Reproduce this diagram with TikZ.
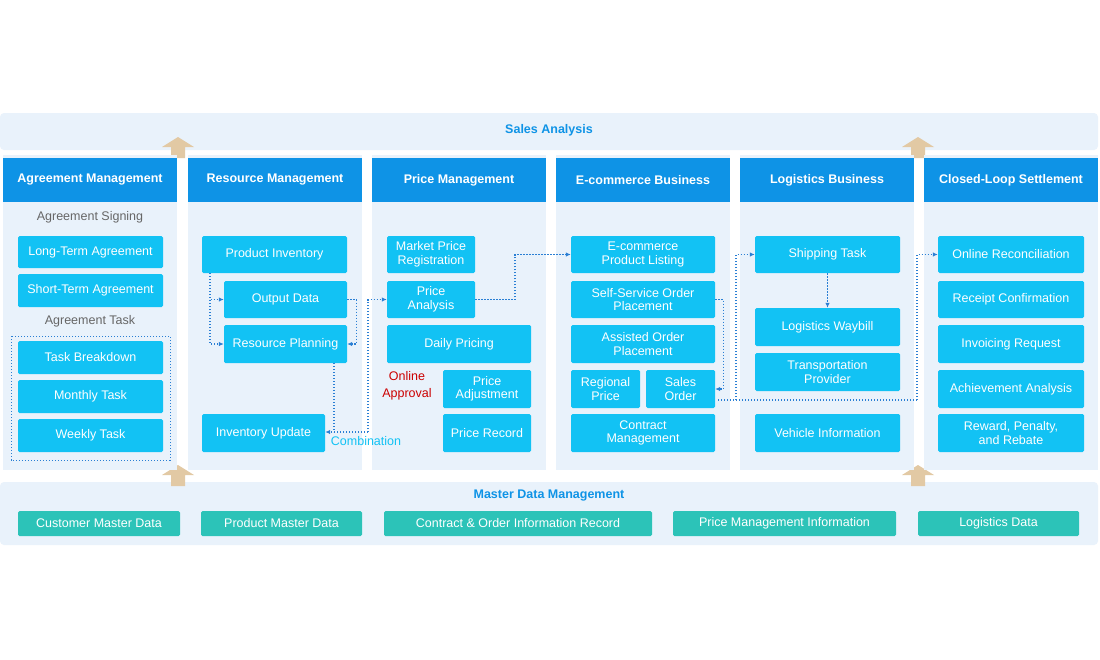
\documentclass[tikz,border=0pt]{standalone}
\usepackage{fontspec}
\setmainfont{Liberation Sans}
\usetikzlibrary{arrows.meta,calc}
\definecolor{pan}{HTML}{E9F2FB}
\definecolor{hdr}{HTML}{0E93E6}
\definecolor{bx}{HTML}{12C2F4}
\definecolor{teal}{HTML}{2CC3B8}
\definecolor{lnk}{HTML}{2A7FD4}
\definecolor{beige}{HTML}{E2C9A4}
\tikzset{x=1pt,y=-1pt,
 cbox/.style={fill=bx,rounded corners=1.5pt,text=white,align=center,inner sep=0pt,font=\fontsize{12.5}{13.5}\selectfont},
 tbox/.style={fill=teal,rounded corners=1.5pt,text=white,align=center,inner sep=0pt,font=\fontsize{12.5}{13.5}\selectfont},
 hbox/.style={fill=hdr,text=white,inner sep=0pt,font=\bfseries\fontsize{12.5}{14}\selectfont},
 link/.style={draw=lnk,dash pattern=on 1.3pt off 1.7pt,line width=1.1pt,-{Latex[length=5pt,width=4.5pt]}},
 linkn/.style={draw=lnk,dash pattern=on 1.3pt off 1.7pt,line width=1.1pt},
 upar/.style={fill=beige}}
\newcommand{\bxn}[7]{\node[#1,minimum width={(#5)-(#3)},minimum height={(#6)-(#4)}] (#2) at ({((#3)+(#5))/2},{((#4)+(#6))/2}) {#7};}
\begin{document}
\begin{tikzpicture}
\useasboundingbox (0,0) rectangle (1100,659);
\fill[white] (0,0) rectangle (1100,659);
% sales analysis
\fill[pan,rounded corners=4pt] (0,113) rectangle (1098,150);
\node[text=hdr,font=\bfseries\fontsize{12.5}{14}\selectfont] (sa) at (549,130) {Sales Analysis};
% master bar
\fill[pan,rounded corners=4pt] (0,482) rectangle (1098,545);
\node[text=hdr,font=\bfseries\fontsize{12.5}{14}\selectfont] (md) at (549,496) {Master Data Management};
% up arrows
\foreach \ax/\ay in {178/137,918/137,178/465,918/465}{
 \fill[beige] (\ax-16,\ay+10) -- (\ax,\ay) -- (\ax+16,\ay+10) -- (\ax+7,\ay+10) -- (\ax+7,\ay+21) -- (\ax-7,\ay+21) -- (\ax-7,\ay+10) -- cycle;}
% panels and headers
\foreach \px/\t [count=\i] in {3/Agreement Management,188/Resource Management,372/Price Management,556/E-commerce Business,740/Logistics Business,924/Closed-Loop Settlement}{
 \fill[pan] (\px,155) rectangle (\px+174,470);
 \bxn{hbox}{h\i}{\px}{158}{\px+174}{202}{\t}
}
% agreement
\node[text=black!60,font=\fontsize{12.5}{13.5}\selectfont] (as) at (90,217) {Agreement Signing};
\bxn{cbox}{lt}{18}{236}{163}{268}{Long-Term Agreement}
\bxn{cbox}{st}{18}{274}{163}{307}{Short-Term Agreement}
\node[text=black!60,font=\fontsize{12.5}{13.5}\selectfont] (at) at (90,321) {Agreement Task};
\draw[lnk,dash pattern=on 1.3pt off 1.7pt,line width=0.9pt] (11,336) rectangle (170,460);
\bxn{cbox}{tb}{18}{341}{163}{374}{Task Breakdown}
\bxn{cbox}{mt}{18}{380}{163}{413}{Monthly Task}
\bxn{cbox}{wt}{18}{419}{163}{452}{Weekly Task}
% resource
\bxn{cbox}{pi}{202}{236}{347}{273}{Product Inventory}
\bxn{cbox}{od}{224}{281}{347}{318}{Output Data}
\bxn{cbox}{rp}{224}{325}{347}{363}{Resource Planning}
\bxn{cbox}{iu}{202}{414}{325}{452}{Inventory Update}
\node[text=bx,font=\fontsize{12.5}{13.5}\selectfont] (comb) at (366,441) {Combination};
% price
\bxn{cbox}{mp}{387}{236}{475}{273}{Market Price\\Registration}
\bxn{cbox}{pa}{387}{281}{475}{318}{Price\\Analysis}
\bxn{cbox}{dp}{387}{325}{531}{363}{Daily Pricing}
\bxn{cbox}{padj}{443}{370}{531}{408}{Price\\Adjustment}
\bxn{cbox}{pr}{443}{414}{531}{452}{Price Record}
\node[text=red!80!black,align=center,font=\fontsize{12.5}{17}\selectfont] (oa) at (407,386) {Online\\Approval};
% ecommerce
\bxn{cbox}{epl}{571}{236}{715}{273}{E-commerce\\Product Listing}
\bxn{cbox}{sso}{571}{281}{715}{318}{Self-Service Order\\Placement}
\bxn{cbox}{aop}{571}{325}{715}{363}{Assisted Order\\Placement}
\bxn{cbox}{rgp}{571}{370}{640}{408}{Regional\\Price}
\bxn{cbox}{so}{646}{370}{715}{408}{Sales\\Order}
\bxn{cbox}{cm}{571}{414}{715}{452}{Contract\\Management}
% logistics
\bxn{cbox}{sh}{755}{236}{900}{273}{Shipping Task}
\bxn{cbox}{lw}{755}{308}{900}{346}{Logistics Waybill}
\bxn{cbox}{tp}{755}{353}{900}{391}{Transportation\\Provider}
\bxn{cbox}{vi}{755}{414}{900}{452}{Vehicle Information}
% closed loop
\bxn{cbox}{orc}{938}{236}{1084}{273}{Online Reconciliation}
\bxn{cbox}{rc}{938}{281}{1084}{318}{Receipt Confirmation}
\bxn{cbox}{ir}{938}{325}{1084}{363}{Invoicing Request}
\bxn{cbox}{aa}{938}{370}{1084}{408}{Achievement Analysis}
\bxn{cbox}{rw}{938}{414}{1084}{452}{Reward, Penalty,\\and Rebate}
% master items
\bxn{tbox}{m1}{18}{511}{180}{536}{Customer Master Data}
\bxn{tbox}{m2}{201}{511}{362}{536}{Product Master Data}
\bxn{tbox}{m3}{384}{511}{652}{536}{Contract \& Order Information Record}
\bxn{tbox}{m4}{673}{511}{896}{536}{Price Management Information}
\bxn{tbox}{m5}{918}{511}{1079}{536}{Logistics Data}
% connectors
\coordinate (c1) at (210,273);
\draw[link] (c1) |- (od.west);
\draw[link] (c1) |- (rp.west);
\draw[link] (od.east) -- ++(9,0) |- (rp.east);
\draw[linkn] (334,363) -- (334,432);
\coordinate (c2) at (368,432);
\draw[link] (c2) -- (iu.east |- c2);
\draw[link] (c2) |- (pa.west);
\coordinate (c3) at (515,299.5);
\draw[link] (pa.east) -- (c3) |- (epl.west);
\draw[link] (sso.east) -- ++(8,0) |- (so.east);
\coordinate (j0) at (718,400);
\coordinate (j) at (736,400);
\coordinate (j2) at (917,400);
\draw[linkn] (j0) -- (j2);
\draw[link] (j) |- (sh.west);
\draw[link] (j2) |- (orc.west);
\draw[link] (sh.south) -- (lw.north);
\end{tikzpicture}
\end{document}
